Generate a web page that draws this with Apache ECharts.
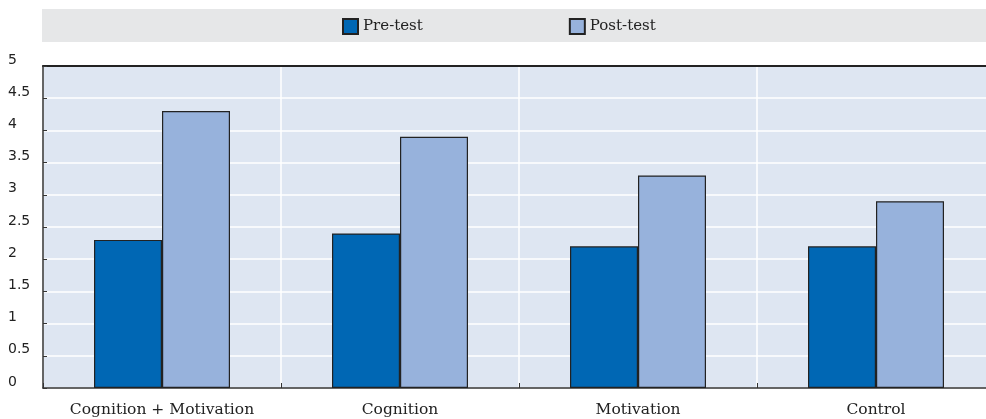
<!DOCTYPE html>
<html>
<head>
<meta charset="utf-8">
<script src="https://cdn.jsdelivr.net/npm/echarts@6/dist/echarts.min.js"></script>
<style>
  html, body { margin: 0; padding: 0; background: #ffffff; }
  #chart { width: 986px; height: 419px; }
</style>
</head>
<body>
<div id="chart"></div>
<script>
// Chart data
const categories = ['Cognition + Motivation', 'Cognition', 'Motivation', 'Control'];
const preTest = [2.3, 2.4, 2.2, 2.2];
const postTest = [4.3, 3.9, 3.3, 2.9];
const seriesNames = ['Pre-test', 'Post-test'];

const chart = echarts.init(document.getElementById('chart'));

const serif = 'DejaVu Serif';
const sans = 'DejaVu Sans';

chart.setOption({
  animation: false,
  graphic: [
    {
      type: 'rect',
      z: -10,
      shape: { x: 42, y: 9, width: 944, height: 33 },
      style: { fill: '#e6e7e8' }
    }
  ],
  legend: {
    data: seriesNames,
    left: 342,
    top: 18,
    padding: 0,
    itemWidth: 15,
    itemHeight: 15,
    itemGap: 146,
    icon: 'rect',
    textStyle: { fontFamily: serif, fontSize: 15, color: '#222' }
  },
  grid: {
    left: 43,
    width: 952,
    top: 66,
    bottom: 31,
    outerBoundsMode: 'none',
    show: true,
    backgroundColor: '#dee6f2',
    borderWidth: 0
  },
  xAxis: [
    {
      type: 'category',
      data: categories,
      axisLine: { lineStyle: { color: '#333', width: 1.5 } },
      axisTick: { show: true, inside: true, length: 5, lineStyle: { color: '#333' } },
      axisLabel: { interval: 0, fontFamily: serif, fontSize: 15.5, color: '#222', margin: 14 },
      splitLine: { show: true, interval: 0, lineStyle: { color: '#ffffff', width: 1.5 } }
    },
    {
      type: 'category',
      position: 'top',
      data: categories,
      axisLine: { show: true, lineStyle: { color: '#222', width: 2 } },
      axisTick: { show: false },
      axisLabel: { show: false },
      splitLine: { show: false }
    }
  ],
  yAxis: {
    type: 'value',
    min: 0,
    max: 5,
    interval: 0.5,
    axisLine: { show: true, lineStyle: { color: '#333', width: 1.5 } },
    axisTick: { show: true, inside: true, length: 4, lineStyle: { color: '#333' } },
    axisLabel: {
      fontFamily: sans,
      fontSize: 14,
      color: '#222',
      align: 'left',
      verticalAlign: 'bottom',
      lineHeight: 12,
      margin: 35
    },
    splitLine: { show: true, lineStyle: { color: '#ffffff', width: 1.5 } }
  },
  series: [
    {
      name: seriesNames[0],
      type: 'bar',
      data: preTest,
      barWidth: 68,
      barGap: '0%',
      itemStyle: { color: '#0067b4', borderColor: '#222', borderWidth: 1.2 }
    },
    {
      name: seriesNames[1],
      type: 'bar',
      data: postTest,
      barWidth: 68,
      barGap: '0%',
      itemStyle: { color: '#97b2dc', borderColor: '#222', borderWidth: 1.2 }
    }
  ]
});
</script>
</body>
</html>
